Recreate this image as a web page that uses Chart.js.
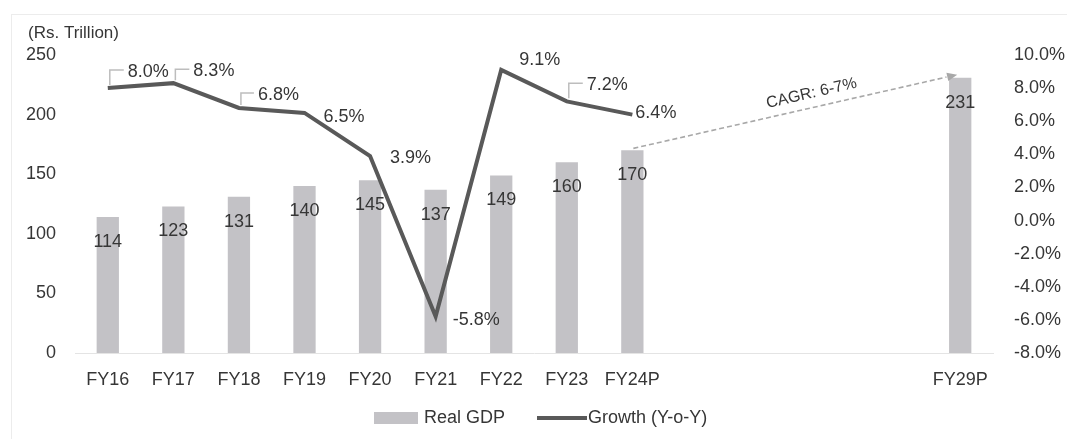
<!DOCTYPE html>
<html>
<head>
<meta charset="utf-8">
<script src="https://cdn.jsdelivr.net/npm/chart.js@4.4.1/dist/chart.umd.min.js"></script>
<style>
  html, body { margin: 0; padding: 0; background: #fff; }
  #wrap { width: 1067px; height: 439px; position: relative; }
</style>
</head>
<body>
<div id="wrap"><canvas id="gdpChart"></canvas></div>
<script>
// fiscal years, with four blank slots between FY24P and FY29P
const fiscalYears = ["FY16", "FY17", "FY18", "FY19", "FY20", "FY21", "FY22", "FY23", "FY24P", "", "", "", "", "FY29P"];
const realGdp = [114, 123, 131, 140, 145, 137, 149, 160, 170, null, null, null, null, 231];
const growthPct = [8.0, 8.3, 6.8, 6.5, 3.9, -5.8, 9.1, 7.2, 6.4, null, null, null, null, null];
const gdpTicks = [0, 50, 100, 150, 200, 250];
const growthTicks = [-8, -6, -4, -2, 0, 2, 4, 6, 8, 10];
const cagrText = "CAGR: 6-7%";
const unitText = "(Rs. Trillion)";

// where each growth label sits relative to its point, and which get a leader line
const growthLabelNudge = [[20, -16], [20, -12], [19, -13], [19, 4], [20, 2], [17, 3], [18, -10], [20, -16], [3, -2]];
const growthLeader = [true, true, true, false, false, false, false, true, false];

const FONT = '"Liberation Sans", Arial, sans-serif';
const TEXT = "#363636";
const BAR = "#c3c2c6";
const LINE = "#595959";

const annotate = {
  id: "annotate",
  beforeDraw(chart) {
    const ctx = chart.ctx;
    ctx.save();
    ctx.strokeStyle = "#ececec";
    ctx.lineWidth = 1;
    ctx.strokeRect(11.5, 14.5, 1070, 440);
    ctx.restore();
  },
  afterDatasetsDraw(chart) {
    const ctx = chart.ctx;
    const bars = chart.getDatasetMeta(0).data;
    const pts = chart.getDatasetMeta(1).data;
    const xs = chart.scales.x;
    const ys = chart.scales.y;
    ctx.save();

    // CAGR arrow from FY24P bar top to FY29P bar top
    const i0 = fiscalYears.indexOf("FY24P");
    const i1 = fiscalYears.indexOf("FY29P");
    const x0 = xs.getPixelForValue(i0) + 1, y0 = ys.getPixelForValue(realGdp[i0]) - 2;
    const x1 = xs.getPixelForValue(i1) - 3, y1 = ys.getPixelForValue(realGdp[i1]) - 3;
    const ang = Math.atan2(y1 - y0, x1 - x0);
    const head = 11;
    ctx.strokeStyle = "#a8a8a8";
    ctx.fillStyle = "#a8a8a8";
    ctx.lineWidth = 1.6;
    ctx.setLineDash([5, 3]);
    ctx.beginPath();
    ctx.moveTo(x0, y0);
    ctx.lineTo(x1 - head * Math.cos(ang), y1 - head * Math.sin(ang));
    ctx.stroke();
    ctx.setLineDash([]);
    ctx.beginPath();
    ctx.moveTo(x1, y1);
    ctx.lineTo(x1 - head * Math.cos(ang - 0.4), y1 - head * Math.sin(ang - 0.4));
    ctx.lineTo(x1 - head * Math.cos(ang + 0.4), y1 - head * Math.sin(ang + 0.4));
    ctx.closePath();
    ctx.fill();

    const mx = x0 + (x1 - x0) * 0.56, my = y0 + (y1 - y0) * 0.56;
    ctx.save();
    ctx.translate(mx - 14 * Math.sin(-ang), my - 14 * Math.cos(ang));
    ctx.rotate(ang);
    ctx.font = "16px " + FONT;
    ctx.fillStyle = TEXT;
    ctx.textAlign = "center";
    ctx.textBaseline = "middle";
    ctx.fillText(cagrText, 0, 0);
    ctx.restore();

    // bar value labels, just inside the top of each bar
    ctx.font = "18px " + FONT;
    ctx.fillStyle = TEXT;
    ctx.textAlign = "center";
    ctx.textBaseline = "middle";
    bars.forEach((b, i) => {
      if (realGdp[i] == null) return;
      ctx.fillText(String(realGdp[i]), b.x, b.y + 25);
    });

    // growth labels with small leader brackets
    ctx.textAlign = "left";
    pts.forEach((p, i) => {
      if (growthPct[i] == null) return;
      const [dx, dy] = growthLabelNudge[i];
      const lx = p.x + dx, ly = p.y + dy;
      if (growthLeader[i]) {
        ctx.strokeStyle = "#bdbdbd";
        ctx.lineWidth = 1.5;
        ctx.beginPath();
        ctx.moveTo(p.x + 2, p.y - 3);
        ctx.lineTo(p.x + 2, ly - 2);
        ctx.lineTo(lx - 4, ly - 2);
        ctx.stroke();
      }
      ctx.fillStyle = TEXT;
      ctx.fillText(growthPct[i].toFixed(1) + "%", lx, ly);
    });
    ctx.restore();
  },
  afterDraw(chart) {
    const ctx = chart.ctx;
    ctx.save();
    ctx.fillStyle = TEXT;
    ctx.textBaseline = "middle";
    ctx.textAlign = "left";
    ctx.font = "17px " + FONT;
    ctx.fillText(unitText, 28, 33);

    // legend
    const ly = 418;
    ctx.fillStyle = BAR;
    ctx.fillRect(374, ly - 6, 44, 12);
    ctx.fillStyle = TEXT;
    ctx.font = "18px " + FONT;
    ctx.fillText(chart.data.datasets[0].label, 424, ly);
    ctx.strokeStyle = LINE;
    ctx.lineWidth = 4;
    ctx.beginPath();
    ctx.moveTo(537, ly);
    ctx.lineTo(587, ly);
    ctx.stroke();
    ctx.fillText(chart.data.datasets[1].label, 588, ly);
    ctx.restore();
  }
};

new Chart(document.getElementById("gdpChart"), {
  data: {
    labels: fiscalYears,
    datasets: [
      {
        type: "bar",
        label: "Real GDP",
        data: realGdp,
        backgroundColor: BAR,
        yAxisID: "y",
        categoryPercentage: 1,
        barPercentage: 0.34,
        order: 2
      },
      {
        type: "line",
        label: "Growth (Y-o-Y)",
        data: growthPct,
        borderColor: LINE,
        borderWidth: 4,
        pointRadius: 0,
        tension: 0,
        spanGaps: false,
        yAxisID: "y1",
        order: 1
      }
    ]
  },
  options: {
    responsive: true,
    maintainAspectRatio: false,
    animation: false,
    layout: { padding: { top: 55, bottom: 46, left: 0, right: 0 } },
    plugins: { legend: { display: false }, tooltip: { enabled: false } },
    scales: {
      x: {
        grid: { display: false },
        border: { display: true, color: "#e4e4e4" },
        ticks: { autoSkip: false, maxRotation: 0, padding: 8, color: TEXT, font: { family: FONT, size: 18 } },
        afterFit: (s) => { s.height = 40; }
      },
      y: {
        position: "left",
        min: 0,
        max: 250,
        grid: { display: false },
        border: { display: false },
        ticks: { padding: 11, color: TEXT, font: { family: FONT, size: 18 } },
        afterBuildTicks: (s) => { s.ticks = gdpTicks.map((v) => ({ value: v })); },
        afterFit: (s) => { s.width = 75; }
      },
      y1: {
        position: "right",
        min: -8,
        max: 10,
        grid: { display: false },
        border: { display: false },
        ticks: {
          padding: 13,
          color: TEXT,
          font: { family: FONT, size: 18 },
          callback: (v) => v.toFixed(1) + "%"
        },
        afterBuildTicks: (s) => { s.ticks = growthTicks.map((v) => ({ value: v })); },
        afterFit: (s) => { s.width = 74; }
      }
    }
  },
  plugins: [annotate]
});
</script>
</body>
</html>
